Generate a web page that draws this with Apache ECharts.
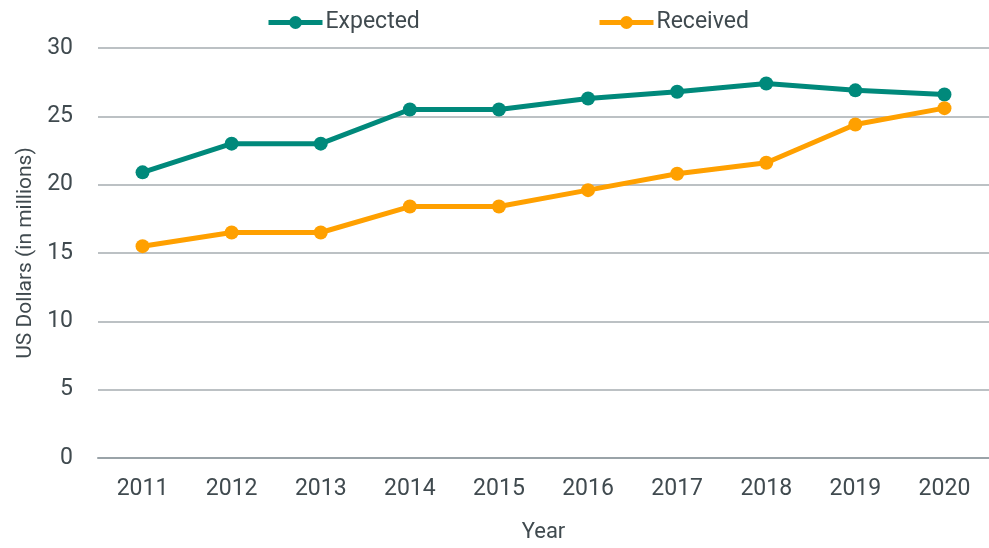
<!DOCTYPE html>
<html>
<head>
<meta charset="utf-8">
<script src="https://cdn.jsdelivr.net/npm/echarts@6/dist/echarts.min.js"></script>
<style>
  html, body { margin: 0; padding: 0; background: #ffffff; }
  #chart { width: 989px; height: 548px; }
</style>
</head>
<body>
<div id="chart"></div>
<script>
// Years on the category axis
const years = ['2011', '2012', '2013', '2014', '2015', '2016', '2017', '2018', '2019', '2020'];
// Amounts in millions of US dollars
const expected = [20.9, 23.0, 23.0, 25.5, 25.5, 26.3, 26.8, 27.4, 26.9, 26.6];
const received = [15.5, 16.5, 16.5, 18.4, 18.4, 19.6, 20.8, 21.6, 24.4, 25.6];
// Value axis ticks
const yTicks = [0, 5, 10, 15, 20, 25, 30];

const FONT = "'Liberation Sans Narrow', 'Roboto', sans-serif";
const TEXT = '#404a4f';
const TEAL = '#00897b';
const ORANGE = '#ffa000';

const chart = echarts.init(document.getElementById('chart'), null, { renderer: 'canvas' });

function lineSeries(name, data, color) {
  return {
    name: name,
    type: 'line',
    data: data,
    symbol: 'circle',
    symbolSize: 14,
    itemStyle: { color: color },
    lineStyle: { color: color, width: 5 },
    emphasis: { disabled: true },
    animation: false
  };
}

function legendFor(name, left) {
  return {
    data: [name],
    left: left, top: 11,
    padding: 0,
    itemWidth: 54, itemHeight: 16, itemGap: 3,
    lineStyle: { width: 5 },
    textStyle: { fontFamily: FONT, fontSize: 23, color: TEXT, padding: [0, 0, 0, -2] }
  };
}

chart.setOption({
  animation: false,
  textStyle: { fontFamily: FONT, color: TEXT },
  grid: { left: 98, right: 0, top: 48, bottom: 90 },
  legend: [legendFor('Expected', 266), legendFor('Received', 597)],
  xAxis: {
    type: 'category',
    data: years,
    boundaryGap: true,
    name: 'Year',
    nameLocation: 'middle',
    nameGap: 63,
    nameTextStyle: { fontFamily: FONT, fontSize: 22, color: TEXT },
    axisLine: { lineStyle: { color: '#9aa3a8', width: 2 } },
    axisTick: { show: false },
    axisLabel: { fontFamily: FONT, fontSize: 23, color: TEXT, margin: 20 }
  },
  yAxis: {
    type: 'value',
    min: yTicks[0],
    max: yTicks[yTicks.length - 1],
    interval: yTicks[1] - yTicks[0],
    name: 'US Dollars (in millions)',
    nameLocation: 'middle',
    nameGap: 60,
    nameTextStyle: { fontFamily: FONT, fontSize: 21, color: TEXT },
    axisLine: { show: false },
    axisTick: { show: false },
    axisLabel: { fontFamily: FONT, fontSize: 23, color: TEXT, margin: 25 },
    splitLine: { lineStyle: { color: '#bcc1c4', width: 2 } }
  },
  series: [
    lineSeries('Expected', expected, TEAL),
    lineSeries('Received', received, ORANGE)
  ]
});
</script>
</body>
</html>
